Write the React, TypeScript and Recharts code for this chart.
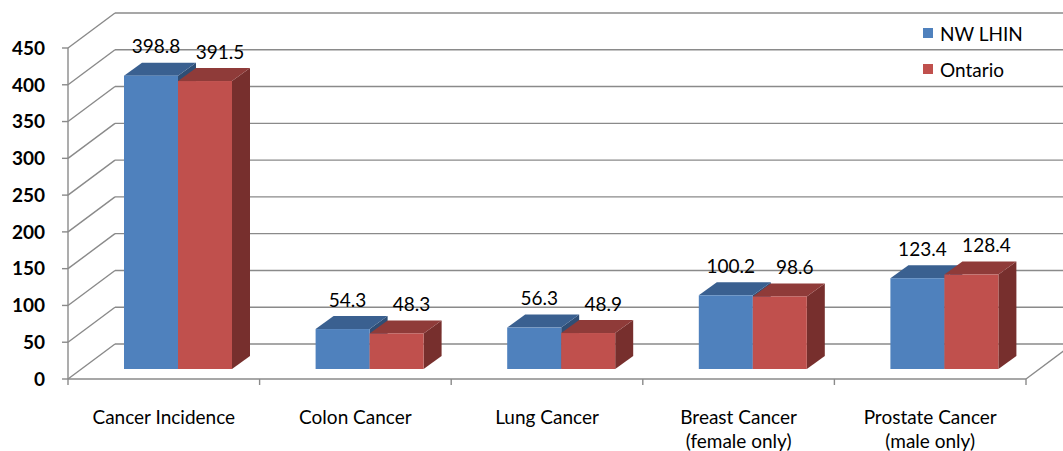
import React from 'react';
import { BarChart, Bar, XAxis, YAxis, CartesianGrid, Legend, LabelList } from 'recharts';

const categories = [
  'Cancer Incidence',
  'Colon Cancer',
  'Lung Cancer',
  'Breast Cancer\n(female only)',
  'Prostate Cancer\n(male only)',
];
const nwLhin = [398.8, 54.3, 56.3, 100.2, 123.4];
const ontario = [391.5, 48.3, 48.9, 98.6, 128.4];
const yTicks = [0, 50, 100, 150, 200, 250, 300, 350, 400, 450];

const data = categories.map((name, i) => ({ name, nw: nwLhin[i], on: ontario[i] }));

// canvas + plot box (front plane of the 3D box)
const W = 1063;
const H = 451;
const PLOT_LEFT = 68;
const PLOT_RIGHT = 1026;
const PLOT_BOTTOM = 379;

// oblique offsets: back wall, bar front plane, bar depth
const WALL = { dx: 47, dy: -35 };
const SHIFT = { dx: 14, dy: -10 };
const DEPTH = { dx: 18, dy: -13 };

const GRID = '#8a8a8a';
const FONT = 'Lato, "Open Sans", sans-serif';

const BLUE = { front: '#4F81BD', top: '#3A6090', side: '#2F4E75' };
const RED = { front: '#C0504D', top: '#8F3B39', side: '#772F2D' };

const makeBox = (c: typeof BLUE) => (props: any) => {
  const { x, y, width, height } = props;
  const fx = x + SHIFT.dx;
  const fy = y + SHIFT.dy;
  const top = `${fx},${fy} ${fx + width},${fy} ${fx + width + DEPTH.dx},${fy + DEPTH.dy} ${fx + DEPTH.dx},${fy + DEPTH.dy}`;
  const side = `${fx + width},${fy} ${fx + width + DEPTH.dx},${fy + DEPTH.dy} ${fx + width + DEPTH.dx},${fy + height + DEPTH.dy} ${fx + width},${fy + height}`;
  return (
    <g>
      <polygon points={side} fill={c.side} />
      <polygon points={top} fill={c.top} />
      <rect x={fx} y={fy} width={width} height={height} fill={c.front} />
    </g>
  );
};

const makeLabel = (ldx: number) => (props: any) => {
  const { x, y, width, value } = props;
  return (
    <text
      x={x + width / 2 + SHIFT.dx + ldx}
      y={y + SHIFT.dy - 30}
      textAnchor="middle"
      dominantBaseline="central"
      fontFamily={FONT}
      fontSize={19}
      fill="#000"
    >
      {value}
    </text>
  );
};

// side wall diagonal + back wall line for every y tick
const gridLine = (props: any) => {
  const { x1, y1, x2 } = props;
  const bx = x1 + WALL.dx;
  const by = y1 + WALL.dy;
  const isFloor = Math.abs(y1 - PLOT_BOTTOM) < 1;
  return (
    <g key={`g-${y1}`}>
      <line x1={x1} y1={y1} x2={bx} y2={by} stroke={GRID} strokeWidth={1.4} />
      <line x1={bx} y1={by} x2={x2 + WALL.dx} y2={by} stroke={GRID} strokeWidth={1.4} />
      {isFloor && (
        <line x1={x2} y1={y1} x2={x2 + WALL.dx} y2={by} stroke={GRID} strokeWidth={1.4} />
      )}
    </g>
  );
};

const band = (PLOT_RIGHT - PLOT_LEFT) / categories.length;

const XTick = (props: any) => {
  const { x, payload, index } = props;
  const lines = String(payload.value).split('\n');
  return (
    <g>
      <line x1={x - band / 2} y1={PLOT_BOTTOM} x2={x - band / 2} y2={PLOT_BOTTOM + 6} stroke={GRID} strokeWidth={1.4} />
      {index === categories.length - 1 && (
        <line x1={x + band / 2} y1={PLOT_BOTTOM} x2={x + band / 2} y2={PLOT_BOTTOM + 6} stroke={GRID} strokeWidth={1.4} />
      )}
      {lines.map((t, i) => (
        <text
          key={i}
          x={x}
          y={PLOT_BOTTOM + 37 + i * 24}
          textAnchor="middle"
          dominantBaseline="central"
          fontFamily={FONT}
          fontSize={19}
          fill="#000"
        >
          {t}
        </text>
      ))}
    </g>
  );
};

const LegendBox = () => (
  <div style={{ fontFamily: FONT, fontSize: 19, color: '#000' }}>
    {[
      { name: 'NW LHIN', color: BLUE.front },
      { name: 'Ontario', color: RED.front },
    ].map((it) => (
      <div key={it.name} style={{ display: 'flex', alignItems: 'center', height: 36 }}>
        <span style={{ width: 10, height: 10, background: it.color, display: 'inline-block', marginRight: 7 }} />
        <span>{it.name}</span>
      </div>
    ))}
  </div>
);

export default function App() {
  return (
    <div style={{ position: 'absolute', left: 0, top: 0, width: W, height: H, background: '#fff' }}>
      <BarChart
        width={W}
        height={H}
        data={data}
        margin={{ top: 48, right: W - PLOT_RIGHT, bottom: 12, left: 8 }}
        barGap={0}
      >
        <CartesianGrid vertical={false} horizontal={gridLine} />
        <XAxis
          dataKey="name"
          axisLine={{ stroke: GRID, strokeWidth: 1.4 }}
          tickLine={false}
          tick={<XTick />}
          height={60}
          interval={0}
        />
        <YAxis
          domain={[0, 450]}
          ticks={yTicks}
          width={60}
          axisLine={{ stroke: GRID, strokeWidth: 1.4 }}
          tickLine={{ stroke: GRID, strokeWidth: 1.4 }}
          tickSize={6}
          tickMargin={17}
          tick={{ fill: '#000', fontSize: 19, fontWeight: 700, fontFamily: FONT }}
        />
        <Legend
          layout="horizontal"
          verticalAlign="middle"
          align="center"
          content={<LegendBox />}
          wrapperStyle={{ top: 15, left: 923, width: 140 }}
        />
        <Bar dataKey="nw" name="NW LHIN" barSize={54} shape={makeBox(BLUE)} isAnimationActive={false}>
          <LabelList dataKey="nw" content={makeLabel(5)} />
        </Bar>
        <Bar dataKey="on" name="Ontario" barSize={54} shape={makeBox(RED)} isAnimationActive={false}>
          <LabelList dataKey="on" content={makeLabel(15)} />
        </Bar>
      </BarChart>
    </div>
  );
}
